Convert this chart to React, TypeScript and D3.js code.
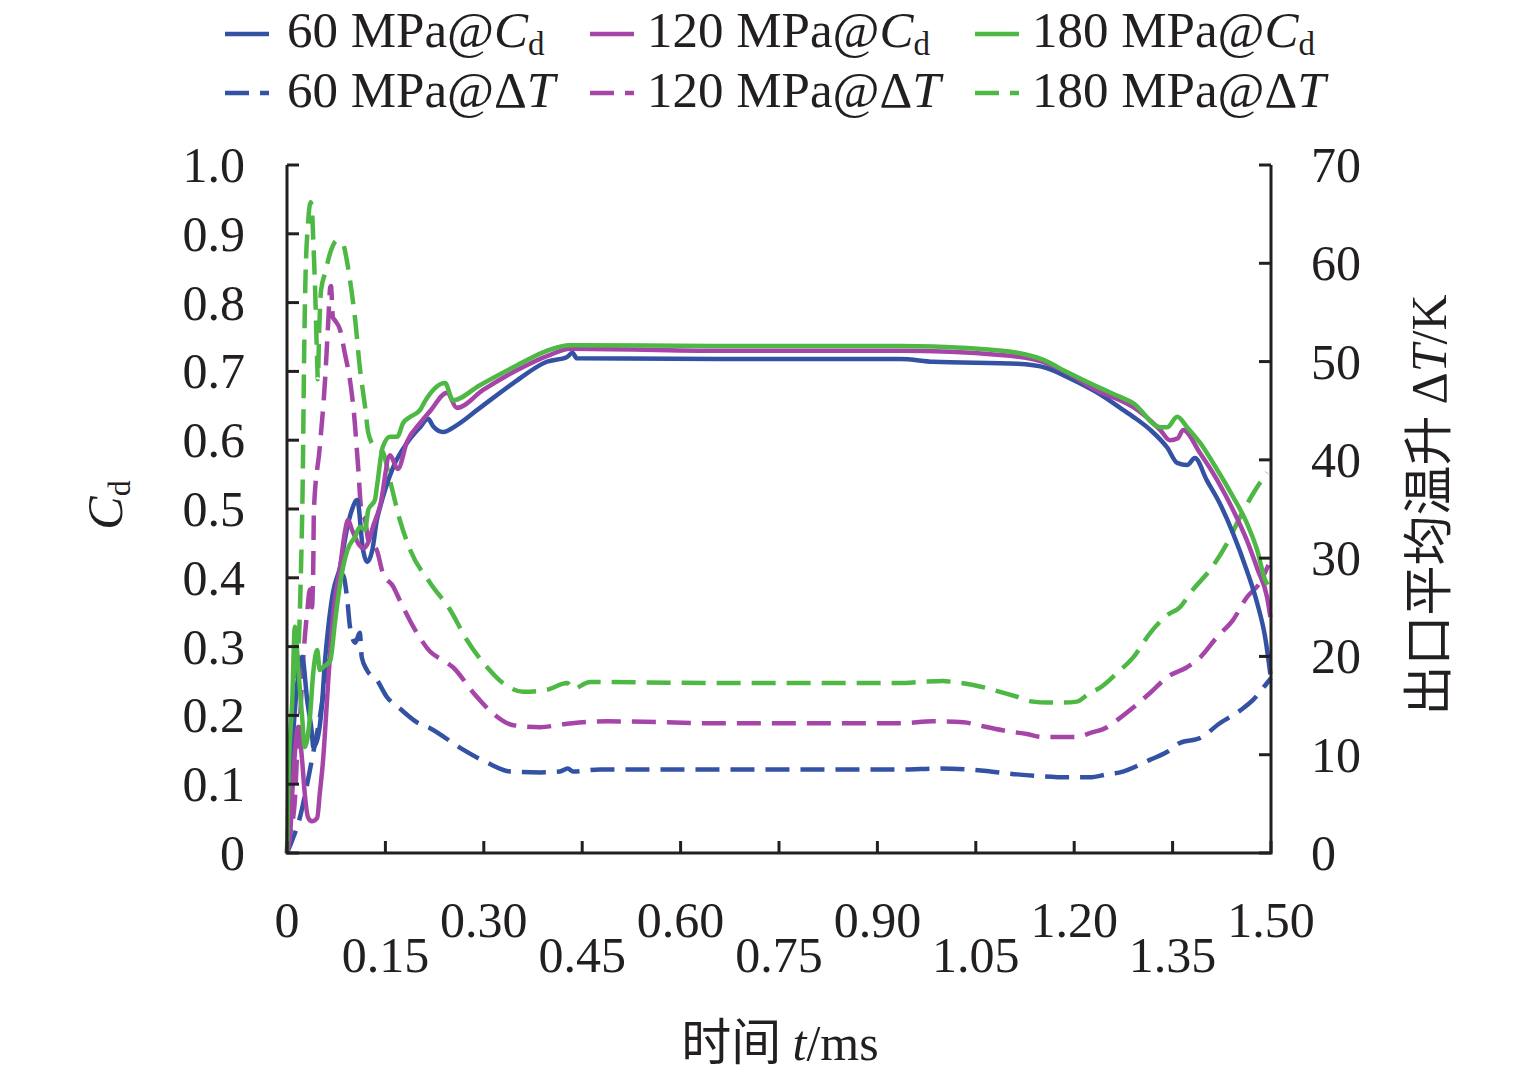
import * as d3 from "d3";

// time (ms) vs discharge coefficient Cd
const cd60: [number, number][] = [
  [0, 0], [0.005, 0.1], [0.015, 0.24], [0.023, 0.285], [0.031, 0.22], [0.038, 0.174],
  [0.04, 0.154], [0.046, 0.164], [0.053, 0.212], [0.058, 0.28], [0.063, 0.329],
  [0.07, 0.378], [0.081, 0.416], [0.092, 0.474], [0.099, 0.499], [0.107, 0.513],
  [0.116, 0.44], [0.122, 0.423], [0.13, 0.44], [0.137, 0.484], [0.142, 0.503],
  [0.162, 0.561], [0.183, 0.596], [0.203, 0.619], [0.215, 0.631], [0.223, 0.62],
  [0.238, 0.612], [0.259, 0.622], [0.29, 0.644], [0.345, 0.683], [0.396, 0.714],
  [0.427, 0.721], [0.435, 0.727], [0.442, 0.719], [0.66, 0.718], [0.935, 0.718],
  [0.985, 0.714], [1.113, 0.711], [1.158, 0.705], [1.189, 0.692], [1.239, 0.667],
  [1.27, 0.647], [1.29, 0.634], [1.316, 0.615], [1.342, 0.589], [1.357, 0.567],
  [1.372, 0.564], [1.384, 0.574], [1.402, 0.542], [1.422, 0.508], [1.442, 0.465],
  [1.463, 0.411], [1.479, 0.363], [1.491, 0.314], [1.499, 0.26],
];

const cd120: [number, number][] = [
  [0, 0], [0.005, 0.03], [0.008, 0.087], [0.012, 0.145], [0.017, 0.183], [0.023, 0.135],
  [0.027, 0.087], [0.032, 0.052], [0.038, 0.046], [0.046, 0.051], [0.05, 0.087],
  [0.055, 0.135], [0.061, 0.222], [0.066, 0.295], [0.073, 0.368], [0.081, 0.416],
  [0.088, 0.465], [0.093, 0.484], [0.099, 0.47], [0.11, 0.448], [0.116, 0.443],
  [0.124, 0.452], [0.131, 0.474], [0.142, 0.505], [0.157, 0.578], [0.169, 0.558],
  [0.183, 0.598], [0.203, 0.625], [0.218, 0.642], [0.244, 0.669], [0.259, 0.647],
  [0.299, 0.673], [0.351, 0.702], [0.401, 0.724], [0.431, 0.733], [0.66, 0.73],
  [0.935, 0.73], [1.087, 0.724], [1.152, 0.714], [1.189, 0.698], [1.239, 0.67],
  [1.27, 0.658], [1.29, 0.648], [1.331, 0.615], [1.346, 0.6], [1.358, 0.603],
  [1.366, 0.615], [1.392, 0.581], [1.418, 0.542], [1.442, 0.499], [1.463, 0.455],
  [1.48, 0.411], [1.494, 0.372], [1.499, 0.343],
];

const cd180: [number, number][] = [
  [0, 0], [0.002, 0.1], [0.008, 0.222], [0.012, 0.329], [0.017, 0.27], [0.023, 0.198],
  [0.027, 0.154], [0.035, 0.198], [0.04, 0.262], [0.046, 0.295], [0.05, 0.266],
  [0.055, 0.27], [0.066, 0.28], [0.073, 0.334], [0.081, 0.392], [0.092, 0.44],
  [0.104, 0.46], [0.111, 0.474], [0.119, 0.47], [0.124, 0.499], [0.134, 0.513],
  [0.137, 0.532], [0.146, 0.59], [0.157, 0.605], [0.168, 0.605], [0.177, 0.625],
  [0.188, 0.634], [0.203, 0.644], [0.21, 0.656], [0.241, 0.683], [0.253, 0.658],
  [0.294, 0.68], [0.345, 0.706], [0.396, 0.73], [0.431, 0.738], [0.66, 0.737],
  [0.935, 0.737], [1.037, 0.734], [1.113, 0.727], [1.152, 0.717], [1.189, 0.699],
  [1.239, 0.676], [1.27, 0.663], [1.29, 0.654], [1.331, 0.619], [1.342, 0.619],
  [1.357, 0.634], [1.372, 0.619], [1.392, 0.596], [1.418, 0.557], [1.442, 0.518],
  [1.463, 0.48], [1.479, 0.44], [1.491, 0.397], [1.495, 0.39],
];

// time (ms) vs outlet mean temperature rise (K)
const dt60: [number, number][] = [
  [0, 0], [0.008, 1.3], [0.02, 3.7], [0.031, 7.1], [0.04, 10.2], [0.05, 13.8],
  [0.061, 18.9], [0.069, 23.7], [0.076, 26.8], [0.084, 28.1], [0.085, 28.3],
  [0.092, 25.7], [0.096, 23.0], [0.104, 21.4], [0.111, 22.4], [0.114, 19.9],
  [0.122, 18.6], [0.137, 17.6], [0.152, 15.9], [0.172, 14.7], [0.198, 13.3],
  [0.218, 12.7], [0.264, 10.7], [0.305, 9.2], [0.34, 8.3], [0.386, 8.2],
  [0.416, 8.3], [0.428, 8.6], [0.436, 8.3], [0.477, 8.5], [0.66, 8.5], [0.935, 8.5],
  [0.995, 8.6], [1.037, 8.5], [1.072, 8.3], [1.113, 8.0], [1.152, 7.8], [1.189, 7.7],
  [1.224, 7.7], [1.25, 8.0], [1.27, 8.2], [1.316, 9.5], [1.342, 10.3], [1.361, 11.2],
  [1.392, 11.7], [1.422, 13.2], [1.453, 14.5], [1.473, 15.6], [1.494, 17.3], [1.5, 17.8],
];

const dt120: [number, number][] = [
  [0, 0], [0.005, 2], [0.012, 5.4], [0.015, 9.5], [0.02, 13.8], [0.024, 18.9],
  [0.031, 24.7], [0.035, 26.8], [0.038, 25], [0.04, 29.1], [0.041, 34.9], [0.05, 41.3],
  [0.058, 48.1], [0.063, 54.2], [0.066, 57.6], [0.067, 57.7], [0.07, 54.5],
  [0.073, 54.2], [0.081, 53.2], [0.088, 50.9], [0.096, 48.1], [0.102, 44.8],
  [0.108, 39.7], [0.114, 34.5], [0.119, 33.9], [0.124, 31.8], [0.137, 30.8],
  [0.146, 28.5], [0.162, 27.1], [0.172, 25.7], [0.198, 22.4], [0.218, 20.5],
  [0.238, 19.6], [0.253, 18.9], [0.284, 16.3], [0.314, 14.2], [0.345, 13.0],
  [0.386, 12.8], [0.421, 13.1], [0.451, 13.3], [0.488, 13.4], [0.66, 13.2],
  [0.935, 13.2], [0.985, 13.4], [1.031, 13.3], [1.061, 12.9], [1.098, 12.4],
  [1.128, 12.1], [1.152, 11.8], [1.178, 11.8], [1.204, 11.8], [1.224, 12.2],
  [1.25, 12.8], [1.267, 13.6], [1.29, 14.8], [1.316, 16.3], [1.342, 17.9],
  [1.372, 18.9], [1.392, 19.9], [1.418, 22.0], [1.442, 23.7], [1.463, 26.0],
  [1.483, 27.5], [1.496, 29.3],
];

const dt180: [number, number][] = [
  [0, 0], [0.005, 10], [0.012, 17], [0.017, 20], [0.021, 28], [0.024, 38], [0.026, 50],
  [0.028, 58], [0.032, 64], [0.036, 66.2], [0.038, 65.5], [0.04, 62.5], [0.043, 57],
  [0.046, 50], [0.047, 48.2], [0.049, 53], [0.052, 57.3], [0.058, 59], [0.067, 61.3],
  [0.076, 62.3], [0.085, 62.0], [0.092, 60], [0.096, 58.3], [0.104, 54.2],
  [0.111, 49.4], [0.119, 45.4], [0.124, 42.7], [0.134, 41.3], [0.146, 40.8],
  [0.157, 37.9], [0.172, 33.9], [0.188, 30.8], [0.218, 27.5], [0.249, 24.7],
  [0.274, 21.7], [0.305, 18.9], [0.329, 17.3], [0.36, 16.4], [0.396, 16.6],
  [0.427, 17.3], [0.436, 16.7], [0.462, 17.4], [0.66, 17.3], [0.935, 17.3],
  [0.965, 17.4], [1.0, 17.5], [1.015, 17.4], [1.046, 17.1], [1.087, 16.4],
  [1.113, 15.9], [1.137, 15.4], [1.159, 15.3], [1.183, 15.3], [1.204, 15.4],
  [1.224, 16.3], [1.239, 16.8], [1.265, 18.3], [1.29, 19.9], [1.316, 22.4],
  [1.342, 24.2], [1.361, 25.0], [1.381, 26.8], [1.407, 28.8], [1.433, 31.5],
  [1.453, 34.2], [1.473, 36.6], [1.494, 38.7],
];

const xTicks = [0, 0.15, 0.3, 0.45, 0.6, 0.75, 0.9, 1.05, 1.2, 1.35, 1.5];
const xTickLabels = ["0", "0.15", "0.30", "0.45", "0.60", "0.75", "0.90", "1.05", "1.20", "1.35", "1.50"];
const cdTicks = [0, 0.1, 0.2, 0.3, 0.4, 0.5, 0.6, 0.7, 0.8, 0.9, 1.0];
const cdTickLabels = ["0", "0.1", "0.2", "0.3", "0.4", "0.5", "0.6", "0.7", "0.8", "0.9", "1.0"];
const dtTicks = [0, 10, 20, 30, 40, 50, 60, 70];
const pressures = ["60", "120", "180"];

const COLORS = ["#3452a4", "#a545a8", "#4db843"];
const INK = "#231f20";
const SERIF = "'Liberation Serif', 'Times New Roman', serif";
const CJK = "'Noto Sans CJK SC', sans-serif";
const DASH = "24,11";

export default function App() {
  const width = 1535;
  const height = 1077;
  const left = 287;
  const right = 1271;
  const top = 165;
  const bottom = 853;

  const x = d3.scaleLinear().domain([0, 1.5]).range([left, right]);
  const yCd = d3.scaleLinear().domain([0, 1]).range([bottom, top]);
  const yDt = d3.scaleLinear().domain([0, 70]).range([bottom, top]);

  const cdLine = d3
    .line<[number, number]>()
    .x((d) => x(d[0]))
    .y((d) => yCd(d[1]))
    .curve(d3.curveMonotoneX);
  const dtLine = d3
    .line<[number, number]>()
    .x((d) => x(d[0]))
    .y((d) => yDt(d[1]))
    .curve(d3.curveMonotoneX);

  const cdSeries = [cd60, cd120, cd180];
  const dtSeries = [dt60, dt120, dt180];

  const legendX = [225, 590, 975];
  const legendTextX = [287, 647, 1032];

  return (
    <svg
      width={width}
      height={height}
      style={{ position: "absolute", left: 0, top: 0, background: "#fff" }}
      fontFamily={SERIF}
    >
      {/* legend */}
      {pressures.map((p, i) => (
        <g key={p}>
          <line x1={legendX[i]} x2={legendX[i] + 44} y1={34} y2={34} stroke={COLORS[i]} strokeWidth={4.5} />
          <text x={legendTextX[i]} y={47} fontSize={51} fill={INK}>
            {p} MPa@<tspan fontStyle="italic">C</tspan>
            <tspan fontSize={33} dy={8}>d</tspan>
          </text>
          <line
            x1={legendX[i]}
            x2={legendX[i] + 44}
            y1={93}
            y2={93}
            stroke={COLORS[i]}
            strokeWidth={4.5}
            strokeDasharray={DASH}
          />
          <text x={legendTextX[i]} y={107} fontSize={51} fill={INK}>
            {p} MPa@Δ<tspan fontStyle="italic">T</tspan>
          </text>
        </g>
      ))}

      {/* curves */}
      <g fill="none" strokeLinejoin="round">
        {dtSeries.map((s, i) => (
          <path key={`dt${i}`} d={dtLine(s) ?? ""} stroke={COLORS[i]} strokeWidth={4.5} strokeDasharray={DASH} />
        ))}
        {cdSeries.map((s, i) => (
          <path key={`cd${i}`} d={cdLine(s) ?? ""} stroke={COLORS[i]} strokeWidth={4.5} />
        ))}
      </g>

      {/* axes */}
      <g stroke={INK} strokeWidth={3} fill="none">
        <path d={`M${left},${top} V${bottom} H${right} V${top}`} />
        {cdTicks.map((t) => (
          <line key={`lt${t}`} x1={left} x2={left + 12} y1={yCd(t)} y2={yCd(t)} />
        ))}
        {dtTicks.map((t) => (
          <line key={`rt${t}`} x1={right} x2={right - 12} y1={yDt(t)} y2={yDt(t)} />
        ))}
        {xTicks.map((t) => (
          <line key={`bt${t}`} x1={x(t)} x2={x(t)} y1={bottom} y2={bottom - 12} />
        ))}
      </g>

      {/* tick labels */}
      <g fontSize={50} fill={INK}>
        {cdTicks.map((t, i) => (
          <text key={`ll${t}`} x={245} y={yCd(t) + 17} textAnchor="end">
            {cdTickLabels[i]}
          </text>
        ))}
        {dtTicks.map((t) => (
          <text key={`rl${t}`} x={1311} y={yDt(t) + 17} textAnchor="start">
            {t}
          </text>
        ))}
        {xTicks.map((t, i) => (
          <text key={`bl${t}`} x={x(t)} y={i % 2 === 0 ? 937 : 972} textAnchor="middle">
            {xTickLabels[i]}
          </text>
        ))}
      </g>

      {/* axis titles */}
      <text x={780} y={1060} fontSize={50} fill={INK} textAnchor="middle">
        <tspan fontFamily={CJK}>时间 </tspan>
        <tspan fontStyle="italic">t</tspan>/ms
      </text>
      <text transform="translate(122,505) rotate(-90)" fontSize={50} fill={INK} textAnchor="middle">
        <tspan fontStyle="italic">C</tspan>
        <tspan fontSize={32} dy={8}>d</tspan>
      </text>
      <text transform="translate(1446,505) rotate(-90)" fontSize={50} fill={INK} textAnchor="middle">
        <tspan fontFamily={CJK}>出口平均温升 </tspan>Δ<tspan fontStyle="italic">T</tspan>/K
      </text>
    </svg>
  );
}
